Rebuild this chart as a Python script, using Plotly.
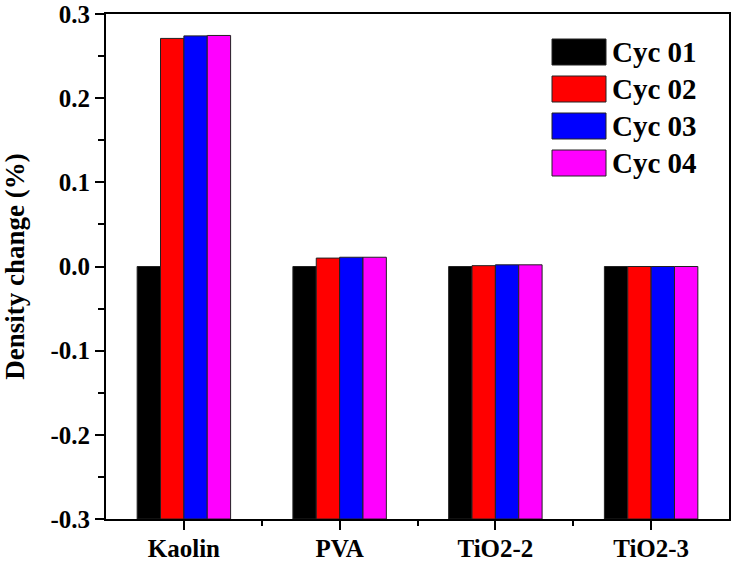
import plotly.graph_objects as go

categories = ["Kaolin", "PVA", "TiO2-2", "TiO2-3"]
series_names = ["Cyc 01", "Cyc 02", "Cyc 03", "Cyc 04"]
cyc01 = [0.0, 0.0, 0.0, 0.0]
cyc02 = [0.271, 0.010, 0.001, 0.0]
cyc03 = [0.274, 0.011, 0.002, 0.0]
cyc04 = [0.2745, 0.011, 0.002, 0.0]
series_values = [cyc01, cyc02, cyc03, cyc04]
colors = ["#000000", "#ff0000", "#0000ff", "#ff00ff"]
y_ticks = [-0.3, -0.2, -0.1, 0.0, 0.1, 0.2, 0.3]

BASE = -0.3
W, H = 733, 562
ML, MR, MT, MB = 106, 4, 14, 43
PW, PH = W - ML - MR, H - MT - MB

FONT = "Liberation Serif"

fig = go.Figure()
xs = list(range(len(categories)))
for name, vals, col in zip(series_names, series_values, colors):
    fig.add_trace(go.Bar(
        x=xs, y=[v - BASE for v in vals], base=BASE, name=name,
        marker=dict(color=col, line=dict(color="#222222", width=1)),
        showlegend=False,
    ))

# manual legend (large swatches)
def px_x(p):
    return (p - ML) / PW
def px_y(p):
    return (MT + PH - p) / PH

row_centers = [52, 89, 126, 163]
for name, col, yc in zip(series_names, colors, row_centers):
    fig.add_shape(type="rect", xref="paper", yref="paper",
                  x0=px_x(552), x1=px_x(606), y0=px_y(yc + 13), y1=px_y(yc - 13),
                  fillcolor=col, line=dict(color="#222222", width=1))
    fig.add_annotation(xref="paper", yref="paper", x=px_x(610), y=px_y(yc),
                       xanchor="left", yanchor="middle", showarrow=False,
                       text=name, font=dict(family=FONT, size=29, color="black", weight="bold"))

fig.update_layout(
    width=W, height=H,
    margin=dict(l=ML, r=MR, t=MT, b=MB, autoexpand=False),
    paper_bgcolor="white", plot_bgcolor="white",
    barmode="group", bargap=0.4, bargroupgap=0,
    font=dict(family=FONT, color="black"),
)
fig.update_xaxes(
    range=[-0.5, len(categories) - 0.5],
    automargin=False,
    tickmode="array", tickvals=xs, ticktext=categories,
    tickfont=dict(family=FONT, size=25, color="black", weight="bold"),
    ticklabelstandoff=-3,
    showline=True, linecolor="black", linewidth=2, mirror=True,
    ticks="outside", ticklen=9, tickwidth=2, tickcolor="black",
    minor=dict(tickmode="array", tickvals=[x + 0.5 for x in xs[:-1]],
               ticks="outside", ticklen=5, tickwidth=2, tickcolor="black"),
    showgrid=False, zeroline=False,
)
fig.update_yaxes(
    range=[-0.3, 0.3],
    automargin=False,
    tickmode="array", tickvals=y_ticks, ticktext=[f"{v:.1f}" for v in y_ticks],
    tickfont=dict(family=FONT, size=25, color="black", weight="bold"),
    ticklabeloverflow="allow",
    title=dict(text="Density change (%)", standoff=18,
               font=dict(family=FONT, size=27, color="black", weight="bold")),
    showline=True, linecolor="black", linewidth=2, mirror=True,
    ticks="outside", ticklen=9, tickwidth=2, tickcolor="black",
    minor=dict(dtick=0.05, tick0=-0.3, ticks="outside", ticklen=6, tickwidth=2, tickcolor="black"),
    showgrid=False, zeroline=False,
)

fig.write_html("out.html")
